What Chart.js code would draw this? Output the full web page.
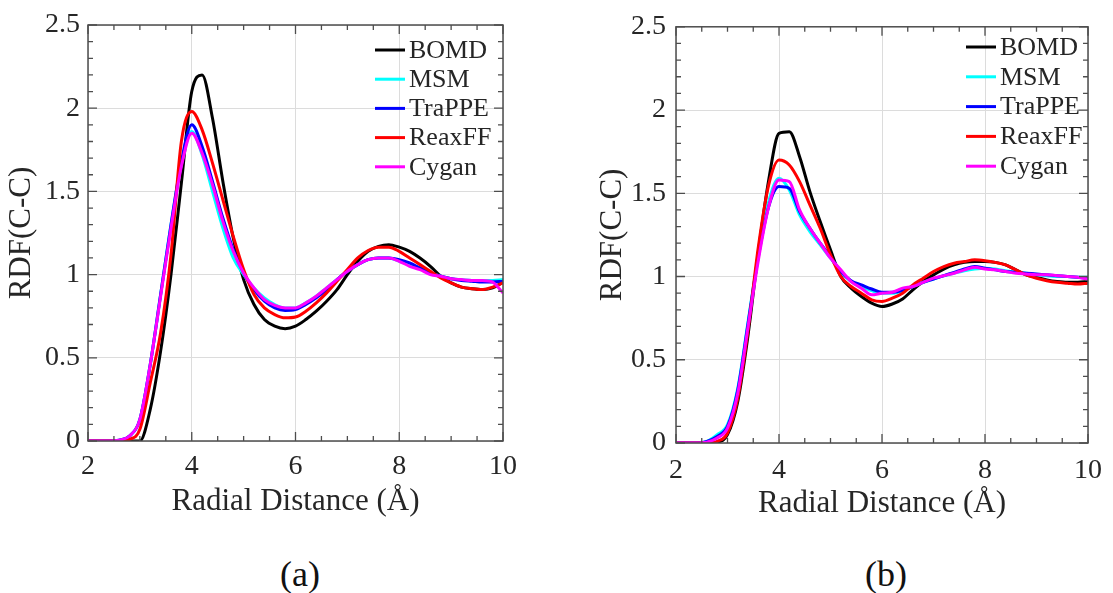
<!DOCTYPE html>
<html>
<head>
<meta charset="utf-8">
<script src="https://cdn.jsdelivr.net/npm/chart.js@4.4.0/dist/chart.umd.min.js"></script>
<style>
  body { margin: 0; background: #fff; width: 1113px; height: 593px; overflow: hidden; position: relative; font-family: "Liberation Serif", "Times New Roman", serif; }
  .panel { position: absolute; top: 0; height: 530px; }
  #panel-a { left: 0; width: 545px; }
  #panel-b { left: 556px; width: 557px; }
  .caption { position: absolute; top: 552px; font-size: 36px; line-height: 44px; color: #111; transform: translateX(-50%); }
</style>
</head>
<body>
<div class="panel" id="panel-a"><canvas id="chart-a"></canvas></div>
<div class="panel" id="panel-b"><canvas id="chart-b"></canvas></div>
<div class="caption" style="left:300px">(a)</div>
<div class="caption" style="left:886px">(b)</div>
<script>
// --- DATA ---
const radius = [2.0, 2.2, 2.4, 2.6, 2.8, 3.0, 3.2, 3.4, 3.6, 3.8, 4.0, 4.2, 4.4, 4.6, 4.8, 5.0, 5.2, 5.4, 5.6, 5.8,
  6.0, 6.2, 6.4, 6.6, 6.8, 7.0, 7.2, 7.4, 7.6, 7.8, 8.0, 8.2, 8.4, 8.6, 8.8, 9.0, 9.2, 9.4, 9.6, 9.8, 10.0];

const seriesNames = ["BOMD", "MSM", "TraPPE", "ReaxFF", "Cygan"];
const seriesColors = ["#000000", "#00ffff", "#0000ff", "#ff0000", "#ff00ff"];

const radialTicks = [2, 4, 6, 8, 10];
const rdfTicks = [0, 0.5, 1, 1.5, 2, 2.5];

// panel (a)
const bomdA = [0, 0, 0, 0, 0, 0, 0.19, 0.54, 1.0, 1.55, 2.1, 2.2, 1.94, 1.56, 1.22, 0.97, 0.82, 0.73, 0.69, 0.675,
  0.69, 0.73, 0.78, 0.84, 0.91, 1.0, 1.08, 1.14, 1.17, 1.18, 1.165, 1.14, 1.1, 1.05, 0.99, 0.95, 0.925, 0.915, 0.91, 0.92, 0.955];
const msmA = [0, 0, 0, 0.005, 0.03, 0.13, 0.46, 0.88, 1.3, 1.66, 1.86, 1.72, 1.5, 1.28, 1.1, 1.0, 0.92, 0.86, 0.82, 0.8,
  0.8, 0.83, 0.87, 0.92, 0.97, 1.02, 1.06, 1.09, 1.1, 1.1, 1.08, 1.06, 1.04, 1.01, 0.99, 0.975, 0.97, 0.965, 0.965, 0.965, 0.97];
const trappeA = [0, 0, 0, 0.005, 0.03, 0.13, 0.46, 0.88, 1.3, 1.68, 1.9, 1.77, 1.56, 1.34, 1.15, 1.01, 0.91, 0.84, 0.8, 0.785,
  0.79, 0.82, 0.86, 0.91, 0.97, 1.02, 1.06, 1.09, 1.1, 1.1, 1.09, 1.07, 1.04, 1.01, 0.99, 0.975, 0.965, 0.96, 0.955, 0.955, 0.96];
const reaxffA = [0, 0, 0, 0, 0.01, 0.07, 0.35, 0.65, 1.12, 1.8, 1.98, 1.87, 1.67, 1.45, 1.23, 1.03, 0.88, 0.8, 0.76, 0.74,
  0.745, 0.78, 0.83, 0.89, 0.96, 1.03, 1.1, 1.145, 1.165, 1.165, 1.14, 1.1, 1.06, 1.02, 0.98, 0.95, 0.925, 0.915, 0.91, 0.925, 0.95];
const cyganA = [0, 0, 0, 0.005, 0.03, 0.13, 0.46, 0.87, 1.28, 1.65, 1.85, 1.73, 1.54, 1.32, 1.14, 1.01, 0.92, 0.85, 0.815, 0.8,
  0.8, 0.83, 0.87, 0.92, 0.97, 1.02, 1.06, 1.09, 1.1, 1.1, 1.08, 1.05, 1.03, 1.0, 0.99, 0.975, 0.97, 0.965, 0.965, 0.955, 0.89];

// panel (b)
const bomdB = [0, 0, 0, 0, 0.005, 0.05, 0.25, 0.65, 1.15, 1.58, 1.86, 1.87, 1.72, 1.51, 1.33, 1.16, 1.0, 0.93, 0.88, 0.84,
  0.82, 0.835, 0.865, 0.92, 0.97, 1.01, 1.045, 1.07, 1.085, 1.09, 1.09, 1.085, 1.07, 1.04, 1.01, 0.995, 0.98, 0.97, 0.965, 0.965, 0.97];
const msmB = [0, 0, 0, 0.01, 0.05, 0.11, 0.33, 0.73, 1.13, 1.45, 1.59, 1.52, 1.37, 1.27, 1.19, 1.11, 1.03, 0.97, 0.94, 0.915,
  0.9, 0.9, 0.915, 0.94, 0.965, 0.985, 1.005, 1.02, 1.035, 1.045, 1.05, 1.045, 1.035, 1.025, 1.02, 1.01, 1.005, 1.0, 1.0, 0.995, 0.995];
const trappeB = [0, 0, 0, 0.01, 0.04, 0.1, 0.32, 0.72, 1.12, 1.42, 1.54, 1.53, 1.39, 1.29, 1.2, 1.12, 1.03, 0.975, 0.95, 0.925,
  0.905, 0.905, 0.915, 0.94, 0.965, 0.985, 1.005, 1.025, 1.045, 1.06, 1.05, 1.04, 1.03, 1.025, 1.02, 1.015, 1.01, 1.005, 1.0, 0.995, 0.99];
const reaxffB = [0, 0, 0, 0, 0.01, 0.06, 0.27, 0.68, 1.18, 1.55, 1.7, 1.67, 1.57, 1.43, 1.29, 1.13, 1.0, 0.94, 0.9, 0.86,
  0.85, 0.87, 0.9, 0.95, 0.99, 1.03, 1.06, 1.08, 1.09, 1.1, 1.095, 1.085, 1.07, 1.04, 1.01, 0.99, 0.975, 0.965, 0.96, 0.955, 0.96];
const cyganB = [0, 0, 0, 0.005, 0.03, 0.09, 0.3, 0.7, 1.1, 1.42, 1.58, 1.57, 1.4, 1.29, 1.2, 1.11, 1.04, 0.97, 0.93, 0.89,
  0.9, 0.905, 0.93, 0.94, 0.965, 0.99, 1.005, 1.02, 1.04, 1.055, 1.045, 1.04, 1.03, 1.02, 1.015, 1.01, 1.01, 1.005, 1.0, 0.995, 0.985];

// --- STYLE ---
const FONT = '"Liberation Serif", "Times New Roman", serif';
const TEXT = "#262626";
const AXIS = "#4d4d4d";
Chart.defaults.font.family = FONT;
Chart.defaults.color = TEXT;

// box, inward ticks (major + minor) and legend, matlab style
const framePlugin = {
  id: "rdfFrame",
  afterDatasetsDraw(chart, args, opts) {
    const { ctx, chartArea: a, scales: { x, y } } = chart;
    ctx.save();
    ctx.strokeStyle = AXIS;
    ctx.lineWidth = 1.5;
    ctx.strokeRect(a.left, a.top, a.right - a.left, a.bottom - a.top);

    ctx.lineWidth = 1.3;
    ctx.beginPath();
    for (let i = 0; i <= 16; i++) {
      const v = 2 + i * 0.5;
      const len = radialTicks.includes(v) ? 9 : 5;
      const px = x.getPixelForValue(v);
      ctx.moveTo(px, a.bottom); ctx.lineTo(px, a.bottom - len);
      ctx.moveTo(px, a.top); ctx.lineTo(px, a.top + len);
    }
    for (let i = 0; i <= 25; i++) {
      const len = i % 5 === 0 ? 9 : 5;
      const py = y.getPixelForValue(i / 10);
      ctx.moveTo(a.left, py); ctx.lineTo(a.left + len, py);
      ctx.moveTo(a.right, py); ctx.lineTo(a.right - len, py);
    }
    ctx.stroke();

    // legend
    ctx.font = `26px ${FONT}`;
    ctx.textBaseline = "middle";
    ctx.textAlign = "left";
    chart.data.datasets.forEach((ds, i) => {
      const ly = opts.legendY + i * opts.legendGap;
      ctx.strokeStyle = ds.borderColor;
      ctx.lineWidth = 3;
      ctx.beginPath();
      ctx.moveTo(opts.legendX, ly);
      ctx.lineTo(opts.legendX + 30, ly);
      ctx.stroke();
      ctx.fillStyle = TEXT;
      ctx.fillText(ds.label, opts.legendX + 34, ly + 1);
    });
    ctx.restore();
  }
};

const buildChart = (canvasId, series, frame) => {
  const datasets = series.map((values, i) => ({
    label: seriesNames[i],
    data: radius.map((r, k) => ({ x: r, y: values[k] })),
    borderColor: seriesColors[i],
    borderWidth: 3,
    pointRadius: 0,
    fill: false,
    cubicInterpolationMode: "monotone",
    order: series.length - i
  }));

  return new Chart(document.getElementById(canvasId), {
    type: "line",
    data: { datasets },
    plugins: [framePlugin],
    options: {
      responsive: true,
      maintainAspectRatio: false,
      animation: false,
      layout: { padding: { left: 0, right: frame.padRight, top: frame.padTop, bottom: 0 } },
      plugins: {
        legend: { display: false },
        tooltip: { enabled: false },
        rdfFrame: { legendX: frame.legendX, legendY: frame.legendY, legendGap: frame.legendGap }
      },
      scales: {
        x: {
          type: "linear",
          min: 2,
          max: 10,
          afterBuildTicks: (axis) => { axis.ticks = radialTicks.map((v) => ({ value: v })); },
          afterFit: (axis) => { axis.height = frame.xHeight; },
          ticks: { font: { size: 28 }, color: TEXT, padding: frame.xTickPad, maxRotation: 0, autoSkip: false, callback: (v) => String(v) },
          grid: { color: "#dcdcdc", lineWidth: 1, drawTicks: false },
          border: { display: false },
          title: { display: true, text: "Radial Distance (Å)", font: { size: 31 }, color: TEXT, padding: { top: 0, bottom: frame.xTitlePad } }
        },
        y: {
          type: "linear",
          min: 0,
          max: 2.5,
          afterBuildTicks: (axis) => { axis.ticks = rdfTicks.map((v) => ({ value: v })); },
          afterFit: (axis) => { axis.width = frame.yWidth; },
          ticks: { font: { size: 28 }, color: TEXT, padding: frame.yTickPad, autoSkip: false, callback: (v) => String(v) },
          grid: { color: "#dcdcdc", lineWidth: 1, drawTicks: false },
          border: { display: false },
          title: { display: true, text: "RDF(C-C)", font: { size: 31 }, color: TEXT, padding: { top: frame.yTitlePad, bottom: 0 } }
        }
      }
    }
  });
};

buildChart("chart-a", [bomdA, msmA, trappeA, reaxffA, cyganA], {
  padRight: 42, padTop: 25, xHeight: 89, yWidth: 88,
  xTickPad: 9, yTickPad: 8, xTitlePad: 10, yTitlePad: 3,
  legendX: 375, legendY: 50, legendGap: 29.2
});
buildChart("chart-b", [bomdB, msmB, trappeB, reaxffB, cyganB], {
  padRight: 16, padTop: 23, xHeight: 87, yWidth: 120,
  xTickPad: 11, yTickPad: 10, xTitlePad: 8, yTitlePad: 38,
  legendX: 410, legendY: 47, legendGap: 29.8
});
</script>
</body>
</html>
